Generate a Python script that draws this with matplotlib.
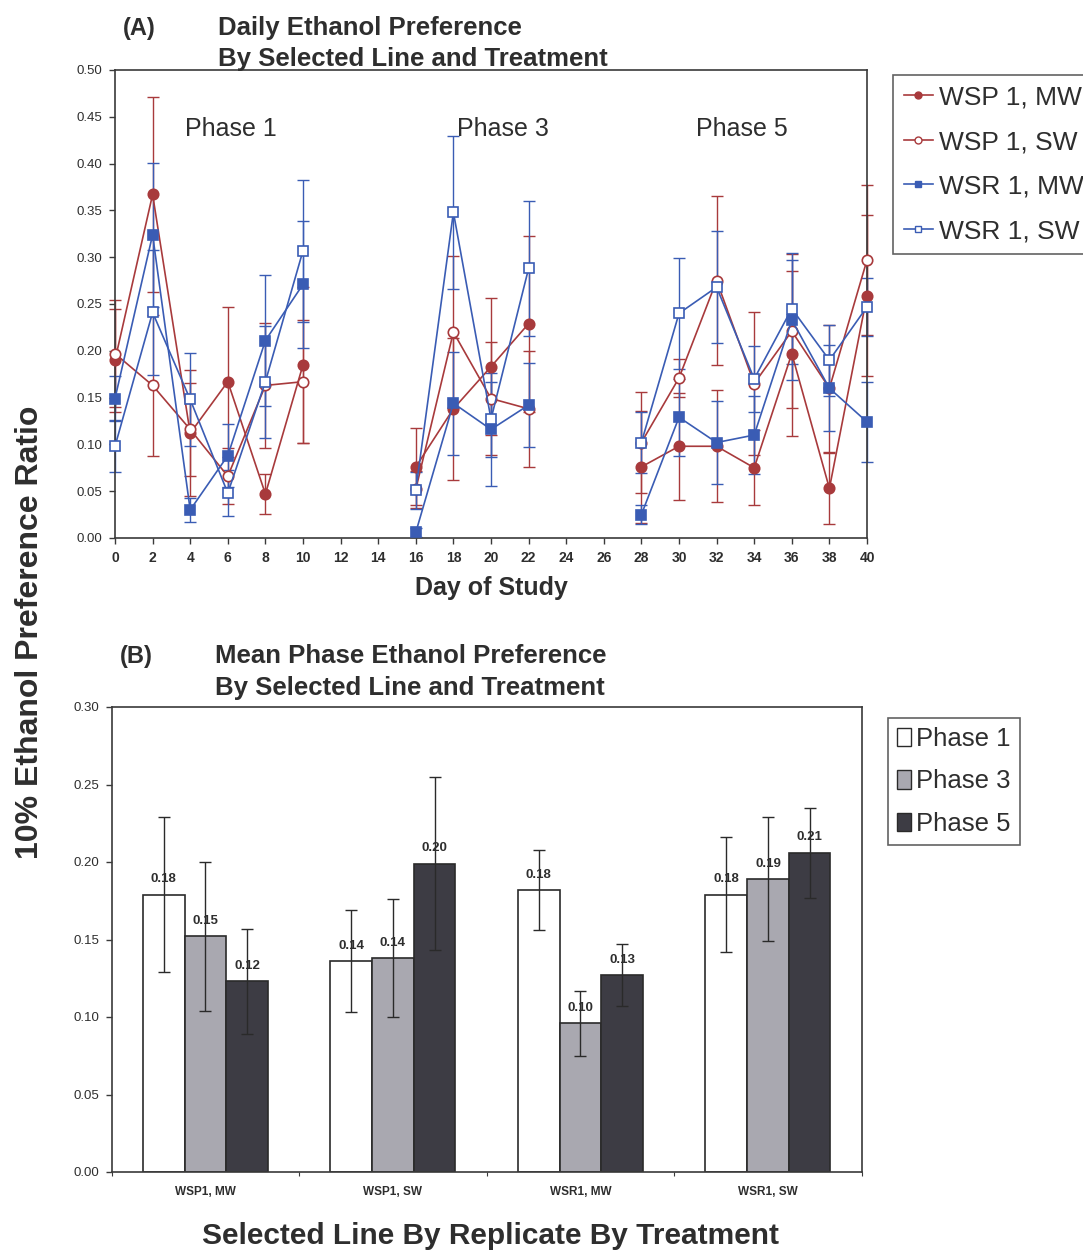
import matplotlib
matplotlib.use('Agg')
import matplotlib.pyplot as plt
from matplotlib.lines import Line2D
from matplotlib.patches import Patch
import numpy as np

plt.rcParams['font.family'] = ['Liberation Sans', 'DejaVu Sans']

# ---------------- Panel A data ----------------
days = [0, 2, 4, 6, 8, 10, 16, 18, 20, 22, 28, 30, 32, 34, 36, 38, 40]
phase_of_day = [1, 1, 1, 1, 1, 1, 3, 3, 3, 3, 5, 5, 5, 5, 5, 5, 5]

wsp_mw = [0.190, 0.367, 0.112, 0.167, 0.047, 0.185, 0.076, 0.138, 0.183, 0.229,
          0.076, 0.098, 0.098, 0.075, 0.197, 0.053, 0.259]
wsp_mw_err = [0.055, 0.104, 0.067, 0.080, 0.021, 0.083, 0.041, 0.076, 0.073, 0.094,
              0.060, 0.057, 0.060, 0.040, 0.088, 0.038, 0.086]
wsp_sw = [0.197, 0.163, 0.116, 0.066, 0.163, 0.167, 0.052, 0.220, 0.149, 0.138,
          0.102, 0.171, 0.275, 0.165, 0.221, 0.160, 0.297]
wsp_sw_err = [0.057, 0.075, 0.050, 0.030, 0.067, 0.066, 0.020, 0.081, 0.060, 0.062,
              0.054, 0.020, 0.090, 0.076, 0.082, 0.068, 0.080]
wsr_mw = [0.149, 0.324, 0.030, 0.088, 0.211, 0.271, 0.006, 0.144, 0.116, 0.142,
          0.025, 0.129, 0.102, 0.110, 0.233, 0.160, 0.124]
wsr_mw_err = [0.024, 0.077, 0.013, 0.034, 0.070, 0.068, 0.005, 0.055, 0.060, 0.045,
              0.010, 0.041, 0.044, 0.042, 0.064, 0.046, 0.043]
wsr_sw = [0.098, 0.241, 0.148, 0.048, 0.167, 0.307, 0.051, 0.348, 0.127, 0.288,
          0.102, 0.240, 0.268, 0.170, 0.245, 0.190, 0.247]
wsr_sw_err = [0.028, 0.067, 0.050, 0.025, 0.060, 0.076, 0.020, 0.082, 0.040, 0.072,
              0.033, 0.059, 0.060, 0.035, 0.059, 0.038, 0.031]

series_names = ['WSP 1, MW', 'WSP 1, SW', 'WSR 1, MW', 'WSR 1, SW']
phase_names = ['Phase 1', 'Phase 3', 'Phase 5']
phase_label_x = [3.7, 18.2, 30.9]
x_ticks_a = list(range(0, 41, 2))
y_ticks_a = [0.00, 0.05, 0.10, 0.15, 0.20, 0.25, 0.30, 0.35, 0.40, 0.45, 0.50]

# ---------------- Panel B data ----------------
groups = ['WSP1, MW', 'WSP1, SW', 'WSR1, MW', 'WSR1, SW']
phase1_mean = [0.179, 0.136, 0.182, 0.179]
phase1_err = [0.050, 0.033, 0.026, 0.037]
phase3_mean = [0.152, 0.138, 0.096, 0.189]
phase3_err = [0.048, 0.038, 0.021, 0.040]
phase5_mean = [0.123, 0.199, 0.127, 0.206]
phase5_err = [0.034, 0.056, 0.020, 0.029]
y_ticks_b = [0.00, 0.05, 0.10, 0.15, 0.20, 0.25, 0.30]

RED = '#A83A3C'
BLUE = '#3A5CB4'
TXT = '#2E2E2E'
SPINE = '#3A3A3A'

W, H = 1083, 1252
fig = plt.figure(figsize=(W / 100, H / 100), dpi=100)

# ================= Panel A =================
axA = fig.add_axes([115 / W, 1 - 538 / H, 752 / W, 468 / H])
styles = [
    dict(color=RED, marker='o', mfc=RED, mec=RED),
    dict(color=RED, marker='o', mfc='white', mec=RED),
    dict(color=BLUE, marker='s', mfc=BLUE, mec=BLUE),
    dict(color=BLUE, marker='s', mfc='white', mec=BLUE),
]
all_vals = [(wsp_mw, wsp_mw_err), (wsp_sw, wsp_sw_err), (wsr_mw, wsr_mw_err), (wsr_sw, wsr_sw_err)]
d = np.array(days)
ph = np.array(phase_of_day)
for (vals, errs), st in zip(all_vals, styles):
    v = np.array(vals)
    e = np.array(errs)
    axA.errorbar(d, v, yerr=e, fmt='none', ecolor=st['color'], elinewidth=1.0,
                 capsize=4, capthick=1.0, clip_on=False, zorder=2)
    for p in (1, 3, 5):
        m = ph == p
        axA.plot(d[m], v[m], color=st['color'], lw=1.2, marker=st['marker'],
                 ms=7.5, mfc=st['mfc'], mec=st['mec'], mew=1.2, clip_on=False, zorder=3)

axA.set_xlim(0, 40)
axA.set_ylim(0, 0.50)
axA.set_xticks(x_ticks_a)
axA.set_xticklabels([str(t) for t in x_ticks_a], fontsize=10, fontweight='bold', color=TXT)
axA.set_yticks(y_ticks_a)
axA.set_yticklabels(['%.2f' % t for t in y_ticks_a], fontsize=9.5, color=TXT)
axA.tick_params(direction='out', length=4, width=1, color=SPINE, pad=5)
for s in axA.spines.values():
    s.set_color(SPINE)
    s.set_linewidth(1.2)
for name, px in zip(phase_names, phase_label_x):
    axA.text(px, 0.437, name, fontsize=18, color=TXT, ha='left', va='center')
axA.set_xlabel('Day of Study', fontsize=18, fontweight='bold', color=TXT, labelpad=8)

fig.text(123 / W, 1 - 28 / H, '(A)', fontsize=17, fontweight='bold', color=TXT, va='center')
fig.text(218 / W, 1 - 28 / H, 'Daily Ethanol Preference', fontsize=18.5,
         fontweight='bold', color=TXT, va='center')
fig.text(218 / W, 1 - 59 / H, 'By Selected Line and Treatment', fontsize=18.5,
         fontweight='bold', color=TXT, va='center')

handles_a = [Line2D([0], [0], color=st['color'], lw=1.2, marker=st['marker'], ms=5,
                    mfc=st['mfc'], mec=st['mec']) for st in styles]
legA = fig.legend(handles_a, series_names, loc='upper left',
                  bbox_to_anchor=(893 / W, 1 - 75 / H), fontsize=19,
                  frameon=True, fancybox=False, edgecolor=SPINE, handlelength=1.1,
                  handletextpad=0.25, borderpad=0.4, labelspacing=0.78,
                  borderaxespad=0)
legA.get_frame().set_linewidth(1.2)
for t in legA.get_texts():
    t.set_color(TXT)

# ================= Panel B =================
axB = fig.add_axes([111.7 / W, 1 - 1172 / H, 750 / W, 465 / H])
x = np.arange(len(groups))
w = 1 / 4.5
bar_sets = [(phase1_mean, phase1_err, 'white'),
            (phase3_mean, phase3_err, '#A9A8B0'),
            (phase5_mean, phase5_err, '#3D3C44')]
for i, (means, errs, col) in enumerate(bar_sets):
    xs = x + (i - 1) * w
    axB.bar(xs, means, width=w, color=col, edgecolor='#2A2A2A', linewidth=1.2, zorder=2)
    axB.errorbar(xs, means, yerr=errs, fmt='none', ecolor='#2A2A2A', elinewidth=1.0,
                 capsize=4, capthick=1.0, zorder=3)
    for xi, m in zip(xs, means):
        axB.text(xi, m + 0.006, '%.2f' % m, ha='center', va='bottom', fontsize=9.5,
                 fontweight='bold', color=TXT, zorder=4)

axB.set_xlim(-0.5, len(groups) - 0.5)
axB.set_ylim(0, 0.30)
axB.set_xticks(np.arange(len(groups) + 1) - 0.5)
axB.set_xticklabels([])
axB.set_xticks(x, minor=True)
axB.set_xticklabels(groups, minor=True, fontsize=8.5, fontweight='bold', color=TXT)
axB.tick_params(axis='x', which='minor', length=0, pad=10)
axB.tick_params(axis='x', which='major', direction='out', length=3, color=SPINE)
axB.set_yticks(y_ticks_b)
axB.set_yticklabels(['%.2f' % t for t in y_ticks_b], fontsize=9.5, color=TXT)
axB.tick_params(axis='y', direction='out', length=4, width=1, color=SPINE, pad=5)
for s in axB.spines.values():
    s.set_color(SPINE)
    s.set_linewidth(1.2)

fig.text(491 / W, 1 - 1236 / H, 'Selected Line By Replicate By Treatment', fontsize=21.5,
         fontweight='bold', color=TXT, ha='center', va='center')

fig.text(120 / W, 1 - 656 / H, '(B)', fontsize=17, fontweight='bold', color=TXT, va='center')
fig.text(215 / W, 1 - 656 / H, 'Mean Phase Ethanol Preference', fontsize=18.5,
         fontweight='bold', color=TXT, va='center')
fig.text(215 / W, 1 - 688 / H, 'By Selected Line and Treatment', fontsize=18.5,
         fontweight='bold', color=TXT, va='center')

handles_b = [Patch(facecolor=c, edgecolor='#2A2A2A', linewidth=1) for _, _, c in bar_sets]
legB = fig.legend(handles_b, phase_names, loc='upper left',
                  bbox_to_anchor=(888 / W, 1 - 718 / H), fontsize=18.5,
                  frameon=True, fancybox=False, edgecolor=SPINE, handlelength=0.55,
                  handleheight=0.75, handletextpad=0.2, borderpad=0.35,
                  labelspacing=0.72, borderaxespad=0)
legB.get_frame().set_linewidth(1.2)
for t in legB.get_texts():
    t.set_color(TXT)

# shared y label
fig.text(30 / W, 1 - 632 / H, '10% Ethanol Preference Ratio', rotation=90,
         fontsize=23, fontweight='bold', color=TXT, ha='center', va='center')

fig.savefig('out.png', dpi=100)
